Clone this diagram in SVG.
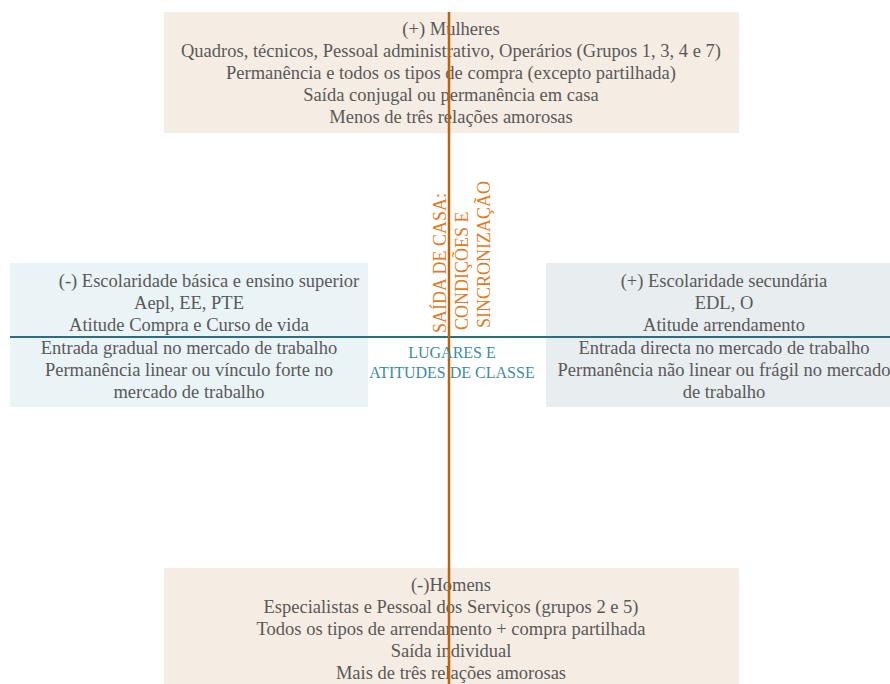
<svg xmlns="http://www.w3.org/2000/svg" width="890" height="684" viewBox="0 0 890 684">
  <style>
    .txt { font-family: "Liberation Serif", "Times New Roman", serif; font-size: 18.5px; fill: #595959; text-anchor: middle; }
    .axis-v { font-family: "Liberation Serif", "Times New Roman", serif; font-size: 18px; fill: #e27a24; }
    .axis-h { font-family: "Liberation Serif", "Times New Roman", serif; font-size: 16px; fill: #3b8ca3; text-anchor: middle; }
    .warm { fill: #f5ece3; }
    .cool-l { fill: #eaf3f5; }
    .cool-r { fill: #e8edef; }
  </style>
  <rect width="890" height="684" fill="#ffffff"/>

  <g id="node-mulheres">
    <rect class="warm" x="164" y="12" width="575" height="121"/>
    <text class="txt" x="451" y="35">(+) Mulheres</text>
    <text class="txt" x="451" y="57">Quadros, técnicos, Pessoal administrativo, Operários (Grupos 1, 3, 4 e 7)</text>
    <text class="txt" x="451" y="79">Permanência e todos os tipos de compra (excepto partilhada)</text>
    <text class="txt" x="451" y="101">Saída conjugal ou permanência em casa</text>
    <text class="txt" x="451" y="123">Menos de três relações amorosas</text>
  </g>

  <g id="node-escolaridade-basica">
    <rect class="cool-l" x="10" y="263" width="358" height="144"/>
    <text class="txt" x="209" y="287">(-) Escolaridade básica e ensino superior</text>
    <text class="txt" x="189" y="309">Aepl, EE, PTE</text>
    <text class="txt" x="189" y="331">Atitude Compra e Curso de vida</text>
    <text class="txt" x="189" y="354">Entrada gradual no mercado de trabalho</text>
    <text class="txt" x="189" y="376">Permanência linear ou vínculo forte no</text>
    <text class="txt" x="189" y="398">mercado de trabalho</text>
  </g>

  <g id="node-escolaridade-secundaria">
    <rect class="cool-r" x="546" y="263" width="350" height="144"/>
    <text class="txt" x="724" y="287">(+) Escolaridade secundária</text>
    <text class="txt" x="724" y="309">EDL, O</text>
    <text class="txt" x="724" y="331">Atitude arrendamento</text>
    <text class="txt" x="724" y="354">Entrada directa no mercado de trabalho</text>
    <text class="txt" x="724" y="376">Permanência não linear ou frágil no mercado</text>
    <text class="txt" x="724" y="398">de trabalho</text>
  </g>

  <g id="node-homens">
    <rect class="warm" x="164" y="568" width="575" height="120"/>
    <text class="txt" x="451" y="591">(-)Homens</text>
    <text class="txt" x="451" y="613">Especialistas e Pessoal dos Serviços (grupos 2 e 5)</text>
    <text class="txt" x="451" y="635">Todos os tipos de arrendamento + compra partilhada</text>
    <text class="txt" x="451" y="657">Saída individual</text>
    <text class="txt" x="451" y="679">Mais de três relações amorosas</text>
  </g>

  <g id="connectors">
    <line x1="10" y1="337" x2="890" y2="337" stroke="#2f6d7d" stroke-width="2"/>
    <line x1="449" y1="12" x2="449" y2="684" stroke="#b8650f" stroke-width="2.5"/>
  </g>

  <g id="axis-labels">
    <text class="axis-v" transform="translate(446,333) rotate(-90)">SAÍDA DE CASA:</text>
    <text class="axis-v" transform="translate(468,330) rotate(-90)">CONDIÇÕES E</text>
    <text class="axis-v" transform="translate(490,328) rotate(-90)">SINCRONIZAÇÃO</text>
    <text class="axis-h" x="452" y="358">LUGARES E</text>
    <text class="axis-h" x="452" y="378">ATITUDES DE CLASSE</text>
  </g>
</svg>
